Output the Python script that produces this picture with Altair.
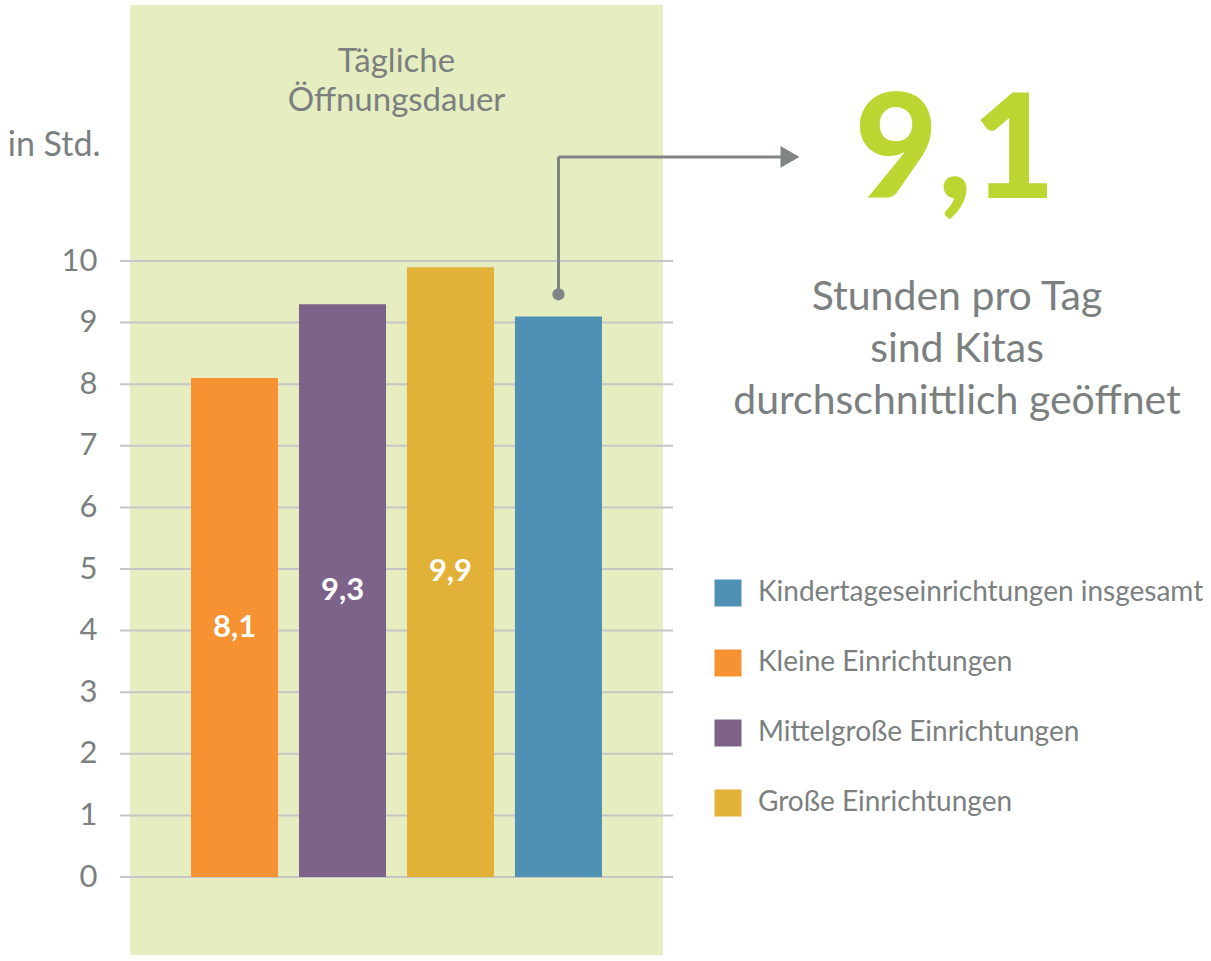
import altair as alt
import pandas as pd

# ---- data ----
categories = ["Kleine Einrichtungen", "Mittelgroße Einrichtungen",
              "Große Einrichtungen", "Kindertageseinrichtungen insgesamt"]
values = [8.1, 9.3, 9.9, 9.1]
value_labels = ["8,1", "9,3", "9,9", ""]

legend_order = ["Kindertageseinrichtungen insgesamt", "Kleine Einrichtungen",
                "Mittelgroße Einrichtungen", "Große Einrichtungen"]
legend_colors = ["#4e91b4", "#f79232", "#7d628a", "#e1b237"]

grid_values = [0, 1, 2, 3, 4, 5, 6, 7, 8, 9, 10]

panel_title = ["Tägliche", "Öffnungsdauer"]
unit_label = "in Std."
headline = "9,1"
headline_text = ["Stunden pro Tag", "sind Kitas", "durchschnittlich geöffnet"]

connector_category = "Kindertageseinrichtungen insgesamt"
connector_from = [9.46]
connector_to = [11.69]

GRAY = "#7b7f80"
FONT = "Lato"

bars_df = pd.DataFrame({"cat": categories, "value": values, "label": value_labels})
grid_df = pd.DataFrame({"g": grid_values})
conn_df = pd.DataFrame({"cat": [connector_category], "y1": connector_from, "y2": connector_to})
one = pd.DataFrame({"k": [0]})

y_scale = alt.Scale(domain=[-1.266, 14.156], nice=False, zero=False)
x_scale = alt.Scale(domain=categories, paddingInner=0.194, paddingOuter=0.565)
color_scale = alt.Scale(domain=legend_order, range=legend_colors)

y_axis = alt.Axis(values=grid_values, grid=False, domain=False, ticks=False,
                  labelFontSize=31, labelColor=GRAY, labelPadding=33, labelFont=FONT,
                  title=unit_label, titleAngle=0, titleAlign="right", titleBaseline="middle",
                  titleX=-30, titleY=140, titleFontSize=34, titleFontWeight="normal",
                  titleColor=GRAY, titleFont=FONT)


def Y(field):
    return alt.Y(field, scale=y_scale, axis=y_axis)


X = alt.X("cat:N", scale=x_scale, axis=None, sort=categories)

grid = alt.Chart(grid_df).mark_rule(color="#c6c6c6", strokeWidth=2).encode(
    y=Y("g:Q"),
    x=alt.value(-10),
    x2=alt.value(543),
)

bars = alt.Chart(bars_df).mark_bar().encode(
    x=X,
    y=Y("value:Q"),
    y2=alt.datum(0),
    color=alt.Color("cat:N", scale=color_scale,
                    legend=alt.Legend(title=None, orient="none", legendX=584, legendY=574,
                                      symbolType="square", symbolSize=729,
                                      symbolStrokeWidth=0, symbolOpacity=1,
                                      labelFontSize=28, labelColor=GRAY, labelFont=FONT,
                                      labelOffset=16, rowPadding=42, labelLimit=600)),
)

bar_labels = alt.Chart(bars_df).transform_calculate(mid="datum.value / 2").mark_text(
    color="white", fontSize=31, fontWeight="bold", font=FONT, baseline="middle"
).encode(
    x=X,
    y=Y("mid:Q"),
    text="label:N",
)

vline = alt.Chart(conn_df).mark_rule(color="#808485", strokeWidth=3).encode(
    x=X,
    y=Y("y1:Q"),
    y2="y2:Q",
)
hline = alt.Chart(conn_df).mark_rule(color="#808485", strokeWidth=3).encode(
    x=X,
    x2=alt.value(652),
    y=Y("y2:Q"),
)
dot = alt.Chart(conn_df).mark_circle(color="#808485", opacity=1, size=150).encode(
    x=X,
    y=Y("y1:Q"),
)
arrow = alt.Chart(conn_df).mark_point(shape="triangle-right", filled=True, opacity=1,
                                      color="#808485", size=480).encode(
    x=alt.value(660),
    y=Y("y2:Q"),
)

title_txt = alt.Chart(one).mark_text(
    text=panel_title, fontSize=33, color=GRAY, font=FONT, align="center",
    baseline="middle", lineHeight=39
).encode(x=alt.value(266.5), y=alt.value(57))

big = alt.Chart(one).mark_text(
    text=headline, fontSize=144, color="#bcd531", font=FONT, fontWeight=900,
    align="center", baseline="alphabetic"
).encode(x=alt.value(825), y=alt.value(193))

desc = alt.Chart(one).mark_text(
    text=headline_text, fontSize=41, color=GRAY, font=FONT, align="center",
    baseline="middle", lineHeight=52
).encode(x=alt.value(827), y=alt.value(293))

chart = alt.layer(grid, bars, bar_labels, vline, hline, dot, arrow, title_txt, big, desc).properties(
    width=533, height=950,
    padding={"left": 130, "top": 5, "right": 548, "bottom": 6},
    autosize=alt.AutoSizeParams(type="none"),
    background="white",
).configure(font=FONT).configure_view(fill="#e6eec1", strokeWidth=0)

chart.save("out.html", embed_options={"renderer": "svg", "actions": False})
